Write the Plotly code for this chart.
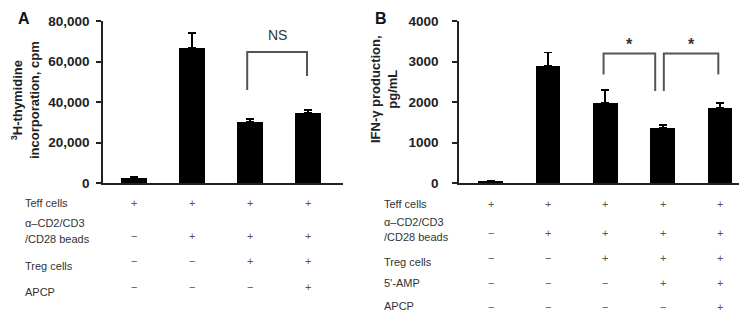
import plotly.graph_objects as go

# ---------------- data ----------------
a_conditions = ["c1", "c2", "c3", "c4"]
a_values = [2600, 66700, 30200, 34600]
a_err = [300, 7400, 1400, 1400]
a_yticks = [0, 20000, 40000, 60000, 80000]
a_yticklabels = ["0", "20,000", "40,000", "60,000", "80,000"]
a_row_labels = ["Teff cells", "α–CD2/CD3", "/CD28 beads", "Treg cells", "APCP"]
a_table = [
    ["+", "+", "+", "+"],
    ["−", "+", "+", "+"],
    ["−", "−", "+", "+"],
    ["−", "−", "−", "+"],
]

b_conditions = ["c1", "c2", "c3", "c4", "c5"]
b_values = [50, 2880, 1975, 1370, 1855]
b_err = [0, 340, 315, 70, 120]
b_yticks = [0, 1000, 2000, 3000, 4000]
b_row_labels = ["Teff cells", "α–CD2/CD3", "/CD28 beads", "Treg cells", "5'-AMP", "APCP"]
b_table = [
    ["+", "+", "+", "+", "+"],
    ["−", "+", "+", "+", "+"],
    ["−", "−", "+", "+", "+"],
    ["−", "−", "−", "+", "+"],
    ["−", "−", "−", "−", "+"],
]

# significance brackets: (x_left, x_right, y_left_end, y_right_end, y_top, label)
a_brackets = [(1.95, 2.98, 45900, 52800, 64700, "NS")]
b_brackets = [(1.97, 2.87, 2680, 2270, 3200, "<b>*</b>"),
              (3.02, 3.97, 2270, 2680, 3200, "<b>*</b>")]

# the page places the figure 8px in from the top-left corner of the window
OFF = 8
W, H = 747 - OFF, 322 - OFF
def py(pix):
    return 1 - (pix - OFF) / H
def px(pix):
    return (pix - OFF) / W

FONT = "Liberation Sans, Arial, sans-serif"
AXC = "#222222"

fig = go.Figure()

fig.add_trace(go.Bar(
    x=list(range(len(a_values))), y=a_values, width=0.44,
    marker=dict(color="black", line=dict(width=0)),
    error_y=dict(type="data", array=a_err, arrayminus=[0] * len(a_err), symmetric=False,
                 color="black", thickness=1.8, width=4),
    xaxis="x", yaxis="y", showlegend=False))

fig.add_trace(go.Bar(
    x=list(range(len(b_values))), y=b_values, width=0.43,
    marker=dict(color="black", line=dict(width=0)),
    error_y=dict(type="data", array=b_err, arrayminus=[0] * len(b_err), symmetric=False,
                 color="black", thickness=1.8, width=4),
    xaxis="x2", yaxis="y2", showlegend=False))

ydom = [py(183), py(21)]
common_y = dict(showline=True, linecolor=AXC, linewidth=1.5, ticks="outside", ticklen=5,
                tickwidth=1.5, tickcolor=AXC, showgrid=False, zeroline=False, automargin=False,
                tickfont=dict(family=FONT, size=13.5, color="#222", weight="bold"), domain=ydom)
common_x = dict(showline=True, linecolor=AXC, linewidth=1.5, ticks="", showticklabels=False,
                showgrid=False, zeroline=False, automargin=False)

fig.update_layout(
    width=W, height=H, margin=dict(l=0, r=0, t=0, b=0, pad=0, autoexpand=False), autosize=False,
    paper_bgcolor="white", plot_bgcolor="white", bargap=0,
    xaxis=dict(domain=[px(103), px(343)], range=[-0.534, 3.6], anchor="y", **common_x),
    yaxis=dict(range=[0, 80000], tickvals=a_yticks, ticktext=a_yticklabels,
               anchor="x", ticklabelstandoff=4, **common_y),
    xaxis2=dict(domain=[px(459), 1.0], range=[-0.55, 4.47], anchor="y2", **common_x),
    yaxis2=dict(range=[0, 4000], tickvals=b_yticks, ticktext=[str(v) for v in b_yticks],
                anchor="x2", ticklabelstandoff=11, **common_y),
)

def bracket(xr, yr, b):
    x0, x1, y0, y1, yt, lab = b
    fig.add_shape(type="path", xref=xr, yref=yr,
                  path=f"M {x0},{y0} L {x0},{yt} L {x1},{yt} L {x1},{y1}",
                  line=dict(color="#555555", width=2))
    return (x0 + x1) / 2

for b in a_brackets:
    xm = bracket("x", "y", b)
    fig.add_annotation(x=xm, y=b[4], xref="x", yref="y", yshift=17, text=b[5], showarrow=False,
                       xanchor="center", yanchor="middle",
                       font=dict(family=FONT, size=14, color="#333"))
for b in b_brackets:
    xm = bracket("x2", "y2", b)
    fig.add_annotation(x=xm, y=b[4], xref="x2", yref="y2", yshift=9, text=b[5], showarrow=False,
                       xanchor="center", yanchor="middle",
                       font=dict(family=FONT, size=16, color="#333"))

# y-axis titles
fig.add_annotation(x=px(26), y=py(100), xref="paper", yref="paper", textangle=-90,
                   xanchor="center", yanchor="middle",
                   text="<b><sup>3</sup>H-thymidine<br>incorporation, cpm</b>", showarrow=False,
                   font=dict(family=FONT, size=13, color="#222"), align="center")
fig.add_annotation(x=px(384), y=py(89), xref="paper", yref="paper", textangle=-90,
                   xanchor="center", yanchor="middle",
                   text="<b>IFN-γ production,<br>pg/mL</b>", showarrow=False,
                   font=dict(family=FONT, size=13, color="#222"), align="center")

# panel letters
fig.add_annotation(x=px(24), y=py(19), xref="paper", yref="paper", text="<b>A</b>",
                   xanchor="center", yanchor="middle",
                   showarrow=False, font=dict(family=FONT, size=16, color="#111"))
fig.add_annotation(x=px(381), y=py(19), xref="paper", yref="paper", text="<b>B</b>",
                   xanchor="center", yanchor="middle",
                   showarrow=False, font=dict(family=FONT, size=16, color="#111"))

TF = dict(family=FONT, size=11, color="#333")
SF = dict(family=FONT, size=11, color="#555")

# table A
a_label_y = [203, 223, 239, 266, 292]
for lab, yy in zip(a_row_labels, a_label_y):
    fig.add_annotation(x=px(23), y=py(yy), xref="paper", yref="paper", xanchor="left",
                       yanchor="middle", text=lab, showarrow=False, font=TF)
a_sign_y = [203, 236, 261, 287]
for row, yy in zip(a_table, a_sign_y):
    for i, s in enumerate(row):
        fig.add_annotation(x=i, y=py(yy), xref="x", yref="paper", text=s,
                           xanchor="center", yanchor="middle",
                           showarrow=False, font=SF)

# table B
b_label_y = [204, 222, 237, 262, 283, 306]
for lab, yy in zip(b_row_labels, b_label_y):
    fig.add_annotation(x=px(382), y=py(yy), xref="paper", yref="paper", xanchor="left",
                       yanchor="middle", text=lab, showarrow=False, font=TF)
b_sign_y = [204, 233, 258, 283, 307]
for row, yy in zip(b_table, b_sign_y):
    for i, s in enumerate(row):
        fig.add_annotation(x=i, y=py(yy), xref="x2", yref="paper", text=s,
                           xanchor="center", yanchor="middle",
                           showarrow=False, font=SF)

fig.write_html("out.html")
